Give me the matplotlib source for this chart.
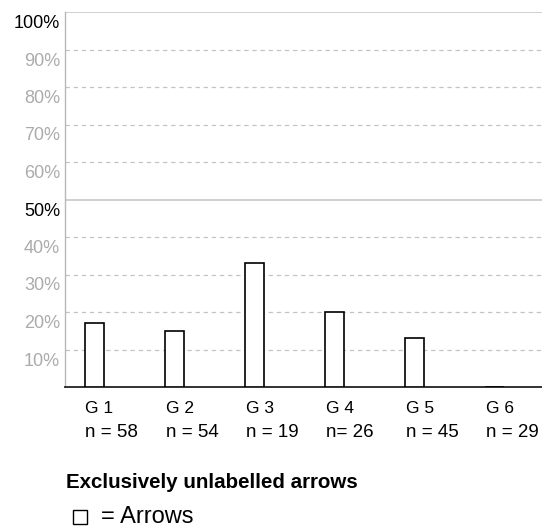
import matplotlib
matplotlib.use("Agg")
import matplotlib.pyplot as plt
from matplotlib.patches import Rectangle
from matplotlib.transforms import blended_transform_factory, offset_copy

groups = ["G 1", "G 2", "G 3", "G 4", "G 5", "G 6"]
n_labels = ["n = 58", "n = 54", "n = 19", "n= 26", "n = 45", "n = 29"]
arrows = [17.1, 15.0, 33.1, 20.1, 13.0, 0.0]
yticks = [10, 20, 30, 40, 50, 60, 70, 80, 90, 100]
ytick_labels = ["10%", "20%", "30%", "40%", "50%", "60%", "70%", "80%", "90%", "100%"]
title = "Exclusively unlabelled arrows"
legend_label = "= Arrows"

plt.rcParams['font.family'] = ['Liberation Sans', 'DejaVu Sans']

W, H = 542, 531
fig = plt.figure(figsize=(W / 100, H / 100), dpi=100)
ax = fig.add_axes([65 / W, 1 - 387 / H, (W - 65) / W, (387 - 12) / H])

x = list(range(len(groups)))
bw = 0.2375
ax.bar(x, arrows, width=bw, facecolor="white", edgecolor="black", linewidth=1.2, zorder=3)

ax.set_xlim(-0.3625, 5.5875)
ax.set_ylim(0, 100)

for v in yticks:
    if v in (50, 100):
        ax.axhline(v, color="#cccccc", linewidth=1.3, zorder=1)
    else:
        ax.axhline(v, color="#c4c4c4", linewidth=0.9, linestyle=(0, (3.5, 3)), zorder=1)

ax.set_yticks([])
ax.set_xticks([])
ytr = offset_copy(blended_transform_factory(ax.transAxes, ax.transData), fig=fig, x=-5, y=-3, units="dots")
for v, lab in zip(yticks, ytick_labels):
    ax.text(0, v, lab, transform=ytr, ha="right", va="top", fontsize=13,
            color="black" if v in (50, 100) else "#ababab")

for s in ["top", "right"]:
    ax.spines[s].set_visible(False)
ax.spines["left"].set_color("#b8b8b8")
ax.spines["left"].set_linewidth(1.0)
ax.spines["bottom"].set_color("#222222")
ax.spines["bottom"].set_linewidth(1.3)

tr = blended_transform_factory(ax.transData, ax.transAxes)
for i, (g, nl) in enumerate(zip(groups, n_labels)):
    ax.text(i - bw / 2 + 0.01, -0.070, g, transform=tr, ha="left", va="baseline", fontsize=12.5)
    ax.text(i - bw / 2 + 0.01, -0.1333, nl, transform=tr, ha="left", va="baseline", fontsize=13.5)

fig.text(66 / W, 1 - 488.3 / H, title, fontsize=14.75, fontweight="bold", ha="left", va="baseline")
fig.patches.append(Rectangle((73 / W, 1 - 523.5 / H), 13.5 / W, 14 / H, transform=fig.transFigure,
                             facecolor="white", edgecolor="black", linewidth=1.0))
fig.text(101 / W, 1 - 523.3 / H, legend_label, fontsize=17, ha="left", va="baseline")

fig.savefig("out.png", dpi=100)
